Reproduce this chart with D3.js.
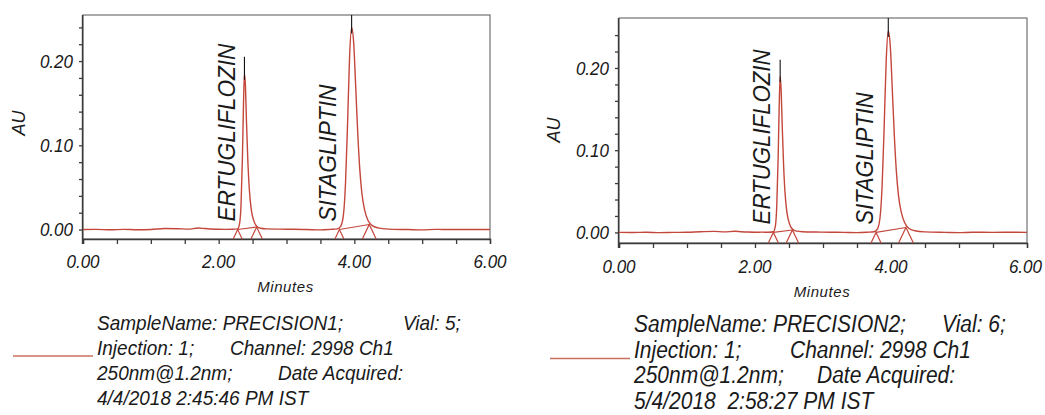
<!DOCTYPE html>
<html>
<head>
<meta charset="utf-8">
<script src="https://cdn.jsdelivr.net/npm/d3@7"></script>
<style>
  html, body { margin: 0; padding: 0; background: #fff; }
  svg { display: block; font-family: "Liberation Sans", Arial, sans-serif; }
  text { fill: #1a1a1a; font-style: italic; }
</style>
</head>
<body>
<svg id="chart" width="1045" height="415"></svg>
<script>
// ---------------- DATA ----------------
// Panel A (PRECISION1) trace: time (min) and absorbance (AU)
const timeA = [0.00,0.20,0.40,0.60,0.80,1.00,1.20,1.40,1.55,1.70,1.80,1.90,2.00,2.10,2.20,2.28,2.31,2.33,2.35,2.365,2.38,2.395,2.41,2.43,2.45,2.48,2.52,2.56,2.62,2.70,2.90,3.10,3.30,3.50,3.65,3.75,3.80,3.84,3.87,3.90,3.93,3.96,3.99,4.02,4.05,4.08,4.11,4.15,4.20,4.26,4.35,4.50,4.80,5.00,5.20,5.50,5.80,6.00];
const auA   = [0.0000,0.0002,-0.0003,0.0002,-0.0002,0.0000,0.0012,0.0010,0.0005,0.0018,0.0012,0.0006,0.0003,0.0002,0.0003,0.0008,0.008,0.030,0.085,0.145,0.185,0.170,0.128,0.082,0.050,0.024,0.010,0.004,0.0015,0.0008,0.0005,0.0003,0.0000,-0.0004,0.0002,0.0008,0.004,0.018,0.055,0.125,0.205,0.240,0.222,0.170,0.115,0.072,0.044,0.024,0.011,0.005,0.002,0.0005,0.0000,-0.0004,0.0002,0.0000,0.0001,0.0000];

// Panel B (PRECISION2) trace
const timeB = [0.00,0.20,0.40,0.60,0.80,1.00,1.20,1.40,1.55,1.70,1.80,1.90,2.00,2.10,2.20,2.27,2.30,2.32,2.34,2.355,2.37,2.385,2.40,2.42,2.44,2.47,2.51,2.55,2.61,2.70,2.90,3.10,3.30,3.50,3.65,3.75,3.80,3.84,3.87,3.90,3.93,3.96,3.99,4.02,4.05,4.08,4.11,4.15,4.20,4.26,4.35,4.50,4.80,5.00,5.20,5.50,5.80,6.00];
const auB   = [0.0000,-0.0002,0.0002,-0.0003,0.0000,0.0002,0.0008,0.0012,0.0006,0.0014,0.0008,0.0004,0.0002,0.0003,0.0002,0.0008,0.008,0.032,0.090,0.150,0.190,0.172,0.130,0.083,0.050,0.024,0.010,0.004,0.0015,0.0008,0.0004,0.0002,0.0000,-0.0003,0.0002,0.0008,0.004,0.019,0.058,0.130,0.210,0.245,0.226,0.172,0.116,0.073,0.045,0.025,0.012,0.005,0.002,0.0006,0.0000,-0.0003,0.0002,0.0000,0.0002,0.0000];

// Peaks: name, integration start/end (min), baseline AU at start/end, apex time, apex-marker top (AU)
const peakNames = ["ERTUGLIFLOZIN", "SITAGLIPTIN"];
const peakStartA = [2.28, 3.78], peakEndA = [2.56, 4.22];
const baseStartA = [0.000, 0.000], baseEndA = [0.003, 0.006];
const apexTimeA = [2.38, 3.96], apexTopA = [0.205, 0.256];
const peakStartB = [2.27, 3.78], peakEndB = [2.55, 4.22];
const baseStartB = [0.000, 0.000], baseEndB = [0.003, 0.006];
const apexTimeB = [2.37, 3.96], apexTopB = [0.210, 0.262];

// Axes
const xDomain = [0, 6];
const yDomainA = [-0.0112, 0.2547];
const yDomainB = [-0.0129, 0.2608];
const xMinorTicks = [0,0.5,1,1.5,2,2.5,3,3.5,4,4.5,5,5.5,6];
const xTickLabels = [0, 2, 4, 6];
const yMinorTicks = [0,0.02,0.04,0.06,0.08,0.10,0.12,0.14,0.16,0.18,0.20,0.22,0.24];
const yTickLabels = [0, 0.10, 0.20];
const xTitle = "Minutes", yTitle = "AU";

// Legend text
const legendA = [["SampleName: PRECISION1;", "Vial: 5;"], ["Injection: 1;", "Channel: 2998 Ch1"], ["250nm@1.2nm;", "Date Acquired:"], ["4/4/2018 2:45:46 PM IST"]];
const legendB = [["SampleName: PRECISION2;", "Vial: 6;"], ["Injection: 1;", "Channel: 2998 Ch1"], ["250nm@1.2nm;", "Date Acquired:"], ["5/4/2018  2:58:27 PM IST"]];

// ---------------- DRAW ----------------
const W = 1045;
const svg = d3.select("#chart");
const TRACE = "#c4473c";
const AXIS = "#3a3a3a";

function tall(sel, fs, factor) {
  sel.attr("font-size", fs);
  sel.each(function () {
    const len = this.getComputedTextLength();
    d3.select(this).attr("font-size", fs * factor)
      .attr("textLength", len).attr("lengthAdjust", "spacingAndGlyphs");
  });
  return sel;
}

function panel(cfg) {
  const g = svg.append("g");
  const x = d3.scaleLinear().domain(xDomain).range([cfg.left, cfg.right]);
  const y = d3.scaleLinear().domain(cfg.yDomain).range([cfg.bottom, cfg.top]);

  g.append("rect").attr("x", cfg.left).attr("y", cfg.top)
    .attr("width", cfg.right - cfg.left).attr("height", cfg.bottom - cfg.top)
    .attr("fill", "none").attr("stroke", "#555").attr("stroke-width", 1);

  // x axis
  const xa = g.append("g").attr("transform", `translate(0,${cfg.bottom})`)
    .call(d3.axisBottom(x).tickValues(xMinorTicks).tickSize(5).tickFormat(""));
  xa.select(".domain").attr("stroke", AXIS).attr("stroke-width", 1.4);
  xa.selectAll(".tick line").attr("stroke", AXIS).attr("stroke-width", 1.3);
  const xl = g.append("g").selectAll("text").data(xTickLabels).join("text")
    .attr("x", d => x(d)).attr("y", cfg.bottom + cfg.xLabDy)
    .attr("text-anchor", "middle")
    .text(d => d3.format(".2f")(d));
  tall(xl, cfg.tickFs, 1.12);
  // keep labels inside the page
  xl.each(function () {
    const b = this.getBBox();
    if (b.x + b.width > W - 2) {
      d3.select(this).attr("text-anchor", "end").attr("x", W - 3);
    }
  });

  // y axis
  const ya = g.append("g").attr("transform", `translate(${cfg.left},0)`)
    .call(d3.axisLeft(y).tickValues(yMinorTicks).tickSize(4).tickFormat(""));
  ya.select(".domain").attr("stroke", AXIS).attr("stroke-width", 1.4)
    .attr("d", `M-0.5,${cfg.top}V${cfg.bottom + 5}`);
  ya.selectAll(".tick line").attr("stroke", AXIS).attr("stroke-width", 1.3);
  const yl = g.append("g").selectAll("text").data(yTickLabels).join("text")
    .attr("x", cfg.left - 10).attr("y", d => y(d) + cfg.tickFs * 0.4)
    .attr("text-anchor", "end")
    .text(d => d3.format(".2f")(d));
  tall(yl, cfg.tickFs, 1.12);

  // axis titles
  g.append("text").attr("x", (cfg.left + cfg.right) / 2 - 1).attr("y", cfg.xTitleY)
    .attr("text-anchor", "middle").attr("font-size", 15).attr("letter-spacing", 0.6)
    .text(xTitle);
  g.append("text").attr("transform", `translate(${cfg.yTitleX},${cfg.yTitleY}) rotate(-90)`)
    .attr("text-anchor", "middle").attr("font-size", 18).text(yTitle);

  // trace
  const pts = cfg.time.map((t, i) => [t, cfg.au[i]]);
  const line = d3.line().x(d => x(d[0])).y(d => y(d[1])).curve(d3.curveMonotoneX);
  g.append("path").datum(pts).attr("d", line)
    .attr("fill", "none").attr("stroke", TRACE).attr("stroke-width", 1.4).attr("stroke-linejoin", "round");

  peakNames.forEach((name, i) => {
    const xs = x(cfg.pStart[i]), ys = y(cfg.bStart[i]);
    const xe = x(cfg.pEnd[i]), ye = y(cfg.bEnd[i]);
    g.append("line").attr("x1", xs).attr("y1", ys).attr("x2", xe).attr("y2", ye)
      .attr("stroke", TRACE).attr("stroke-width", 1.1);
    [[xs, ys], [xe, ye]].forEach(([px, py]) => {
      const h = cfg.bottom - py;
      const hw = h / 2.1;
      g.append("path")
        .attr("d", `M${px - hw},${cfg.bottom}L${px},${py}L${px + hw},${cfg.bottom}`)
        .attr("fill", "none").attr("stroke", TRACE).attr("stroke-width", 1.2);
    });
    const ax = x(cfg.apexT[i]);
    const peakVal = d3.max(pts.filter(p => Math.abs(p[0] - cfg.apexT[i]) < 0.05), p => p[1]);
    g.append("line").attr("x1", ax).attr("x2", ax)
      .attr("y1", y(peakVal) + 6).attr("y2", Math.max(cfg.top, y(cfg.apexTop[i])))
      .attr("stroke", "#111").attr("stroke-width", 1.1);
    g.append("text")
      .attr("transform", `translate(${xs - 3},${y(0) - cfg.nameDy}) rotate(-90)`)
      .attr("font-size", cfg.nameFs).attr("textLength", cfg.nameLen[i])
      .attr("lengthAdjust", "spacingAndGlyphs").text(name);
  });

  // legend
  g.append("line").attr("x1", cfg.legLine[0]).attr("x2", cfg.legLine[1])
    .attr("y1", cfg.legY + cfg.legDy + 1).attr("y2", cfg.legY + cfg.legDy + 1)
    .attr("stroke", "#c8705f").attr("stroke-width", 1.6);
  cfg.legend.forEach((row, r) => {
    row.forEach((s, c) => {
      const t = g.append("text").attr("x", c === 0 ? cfg.legX : cfg.legX2[r])
        .attr("y", cfg.legY + r * cfg.legDy)
        .attr("xml:space", "preserve").style("white-space", "pre").text(s);
      tall(t, cfg.legFs, 1.1);
    });
  });
}

panel({
  left: 83, right: 490, top: 15, bottom: 239, yDomain: yDomainA,
  time: timeA, au: auA,
  pStart: peakStartA, pEnd: peakEndA, bStart: baseStartA, bEnd: baseEndA,
  apexT: apexTimeA, apexTop: apexTopA,
  tickFs: 17, xLabDy: 29, xTitleY: 292, yTitleX: 25, yTitleY: 123,
  nameFs: 23, nameDy: 8, nameLen: [178, 137],
  legend: legendA, legX: 97, legX2: [403, 230, 278, 0], legY: 330, legDy: 25, legFs: 19,
  legLine: [13, 93]
});

panel({
  left: 619, right: 1027, top: 18, bottom: 243, yDomain: yDomainB,
  time: timeB, au: auB,
  pStart: peakStartB, pEnd: peakEndB, bStart: baseStartB, bEnd: baseEndB,
  apexT: apexTimeB, apexTop: apexTopB,
  tickFs: 17, xLabDy: 30, xTitleY: 297, yTitleX: 560, yTitleY: 130,
  nameFs: 23, nameDy: 8, nameLen: [175, 132],
  legend: legendB, legX: 634, legX2: [942, 790, 817, 0], legY: 332, legDy: 25.5, legFs: 21,
  legLine: [550, 630]
});
</script>
</body>
</html>
